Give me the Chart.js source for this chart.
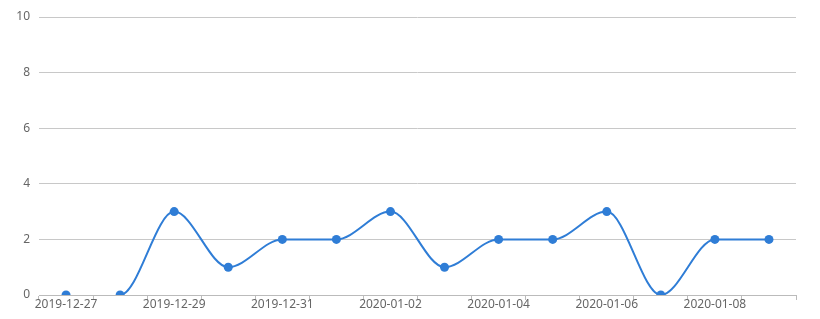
<!DOCTYPE html>
<html>
<head>
<meta charset="utf-8">
<script src="https://cdn.jsdelivr.net/npm/chart.js@4"></script>
<style>
  html, body { margin: 0; padding: 0; background: #fff; }
  #wrap { width: 820px; height: 319px; }
</style>
</head>
<body>
<div id="wrap"><canvas id="chart" width="820" height="319"></canvas></div>
<script>
const dates = [
  "2019-12-27", "2019-12-28", "2019-12-29", "2019-12-30", "2019-12-31",
  "2020-01-01", "2020-01-02", "2020-01-03", "2020-01-04", "2020-01-05",
  "2020-01-06", "2020-01-07", "2020-01-08", "2020-01-09"
]
const counts = [0, 0, 3, 1, 2, 2, 3, 1, 2, 2, 3, 0, 2, 2]
const yTicks = [0, 2, 4, 6, 8, 10]

const blue = "#2f7dd6"
const labelColor = "#666"
const font = { family: "'Noto Sans', sans-serif", size: 12 }

const ctx = document.getElementById("chart").getContext("2d")
new Chart(ctx, {
  type: "line",
  data: {
    labels: dates,
    datasets: [{
      data: counts,
      borderColor: blue,
      backgroundColor: blue,
      borderWidth: 2,
      pointRadius: 4.5,
      pointHoverRadius: 4.5,
      pointBorderWidth: 0,
      cubicInterpolationMode: "monotone",
      fill: false,
      segment: {
        borderColor: c => c.p0DataIndex === 0 ? "transparent" : blue
      }
    }]
  },
  options: {
    responsive: false,
    animation: false,
    layout: { padding: { top: 17, right: 24, left: 0, bottom: 0 } },
    plugins: { legend: { display: false }, tooltip: { enabled: false } },
    scales: {
      x: {
        offset: true,
        grid: {
          offset: true,
          drawOnChartArea: false,
          drawTicks: true,
          tickLength: 5,
          color: "#bbb"
        },
        border: { color: "#bbb" },
        ticks: {
          autoSkip: false,
          maxRotation: 0,
          color: labelColor,
          font: font,
          padding: -3,
          callback: (v, i) => i % 2 === 0 ? dates[i] : ""
        },
        afterFit: s => { s.height = 24 }
      },
      y: {
        min: yTicks[0],
        max: yTicks[yTicks.length - 1],
        afterBuildTicks: s => { s.ticks = yTicks.map(v => ({ value: v })) },
        grid: { color: "#c8c8c8", drawTicks: false },
        border: { display: false },
        ticks: { color: labelColor, font: font, padding: 9 },
        afterFit: s => { s.width = 39 }
      }
    }
  }
})
</script>
</body>
</html>
